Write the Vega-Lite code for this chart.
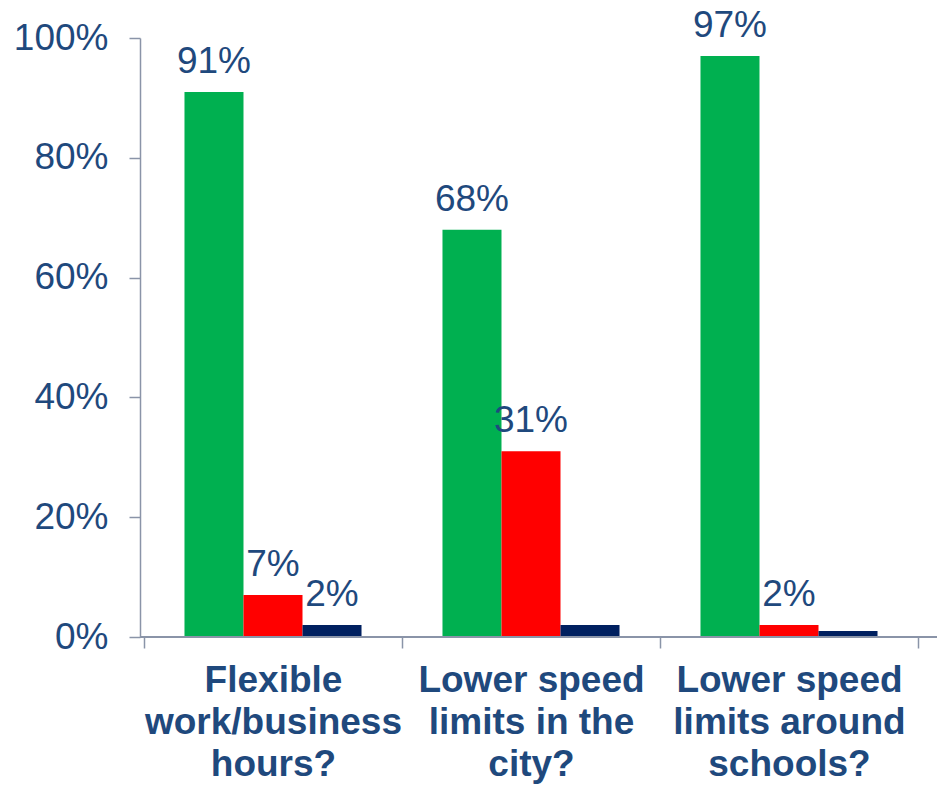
{
  "$schema": "https://vega.github.io/schema/vega-lite/v6.json",
  "width": 797,
  "height": 599,
  "autosize": {"type": "none"},
  "padding": {"left": 140, "top": 38, "right": 0, "bottom": 149},
  "background": "white",
  "config": {"view": {"stroke": null}, "font": "Liberation Sans"},
  "layer": [
    {
      "data": {
        "values": [
          {"q": "Flexible|work/business|hours?", "r": "Yes", "v": 0.91, "label": "91%"},
          {"q": "Flexible|work/business|hours?", "r": "No", "v": 0.07, "label": "7%"},
          {"q": "Flexible|work/business|hours?", "r": "Don't know", "v": 0.02, "label": "2%"},
          {"q": "Lower speed|limits in the|city?", "r": "Yes", "v": 0.68, "label": "68%"},
          {"q": "Lower speed|limits in the|city?", "r": "No", "v": 0.31, "label": "31%"},
          {"q": "Lower speed|limits in the|city?", "r": "Don't know", "v": 0.02, "label": ""},
          {"q": "Lower speed|limits around|schools?", "r": "Yes", "v": 0.97, "label": "97%"},
          {"q": "Lower speed|limits around|schools?", "r": "No", "v": 0.02, "label": "2%"},
          {"q": "Lower speed|limits around|schools?", "r": "Don't know", "v": 0.01, "label": ""}
        ]
      },
      "encoding": {
        "x": {
          "field": "q", "type": "nominal", "sort": null,
          "scale": {"range": [4, 778], "paddingInner": 0, "paddingOuter": 0},
          "axis": {
            "title": null, "labelAngle": 0, "labelFontSize": 37, "labelFontWeight": "bold",
            "labelColor": "#1F497D", "labelLineHeight": 42, "labelExpr": "split(datum.label, '|')",
            "tickBand": "extent", "tickSize": 11, "tickColor": "#8A94A8", "tickWidth": 1.5,
            "domain": false, "labelPadding": 14, "labelLimit": 0
          }
        },
        "xOffset": {
          "field": "r", "type": "nominal", "sort": ["Yes", "No", "Don't know"],
          "scale": {"paddingInner": 0, "paddingOuter": 0.686}
        },
        "y": {
          "field": "v", "type": "quantitative",
          "scale": {"domain": [0, 1]},
          "axis": {
            "title": null, "values": [0, 0.2, 0.4, 0.6, 0.8, 1], "format": ".0%", "grid": false,
            "labelFontSize": 37, "labelColor": "#1F497D", "labelPadding": 21,
            "tickSize": 11, "tickColor": "#8A94A8", "tickWidth": 1.5,
            "domainColor": "#8A94A8", "domainWidth": 1.5
          }
        }
      },
      "layer": [
        {
          "mark": {"type": "bar"},
          "encoding": {
            "color": {
              "field": "r", "type": "nominal",
              "scale": {"domain": ["Yes", "No", "Don't know"], "range": ["#00B050", "#FF0000", "#002060"]},
              "legend": null
            }
          }
        },
        {
          "mark": {"type": "text", "baseline": "alphabetic", "dy": -19, "fontSize": 37, "color": "#1F497D"},
          "encoding": {"text": {"field": "label"}}
        }
      ]
    },
    {
      "data": {"values": [{"z": 0}]},
      "mark": {"type": "rule", "color": "#8A94A8", "strokeWidth": 2},
      "encoding": {"y": {"field": "z", "type": "quantitative"}}
    }
  ]
}
